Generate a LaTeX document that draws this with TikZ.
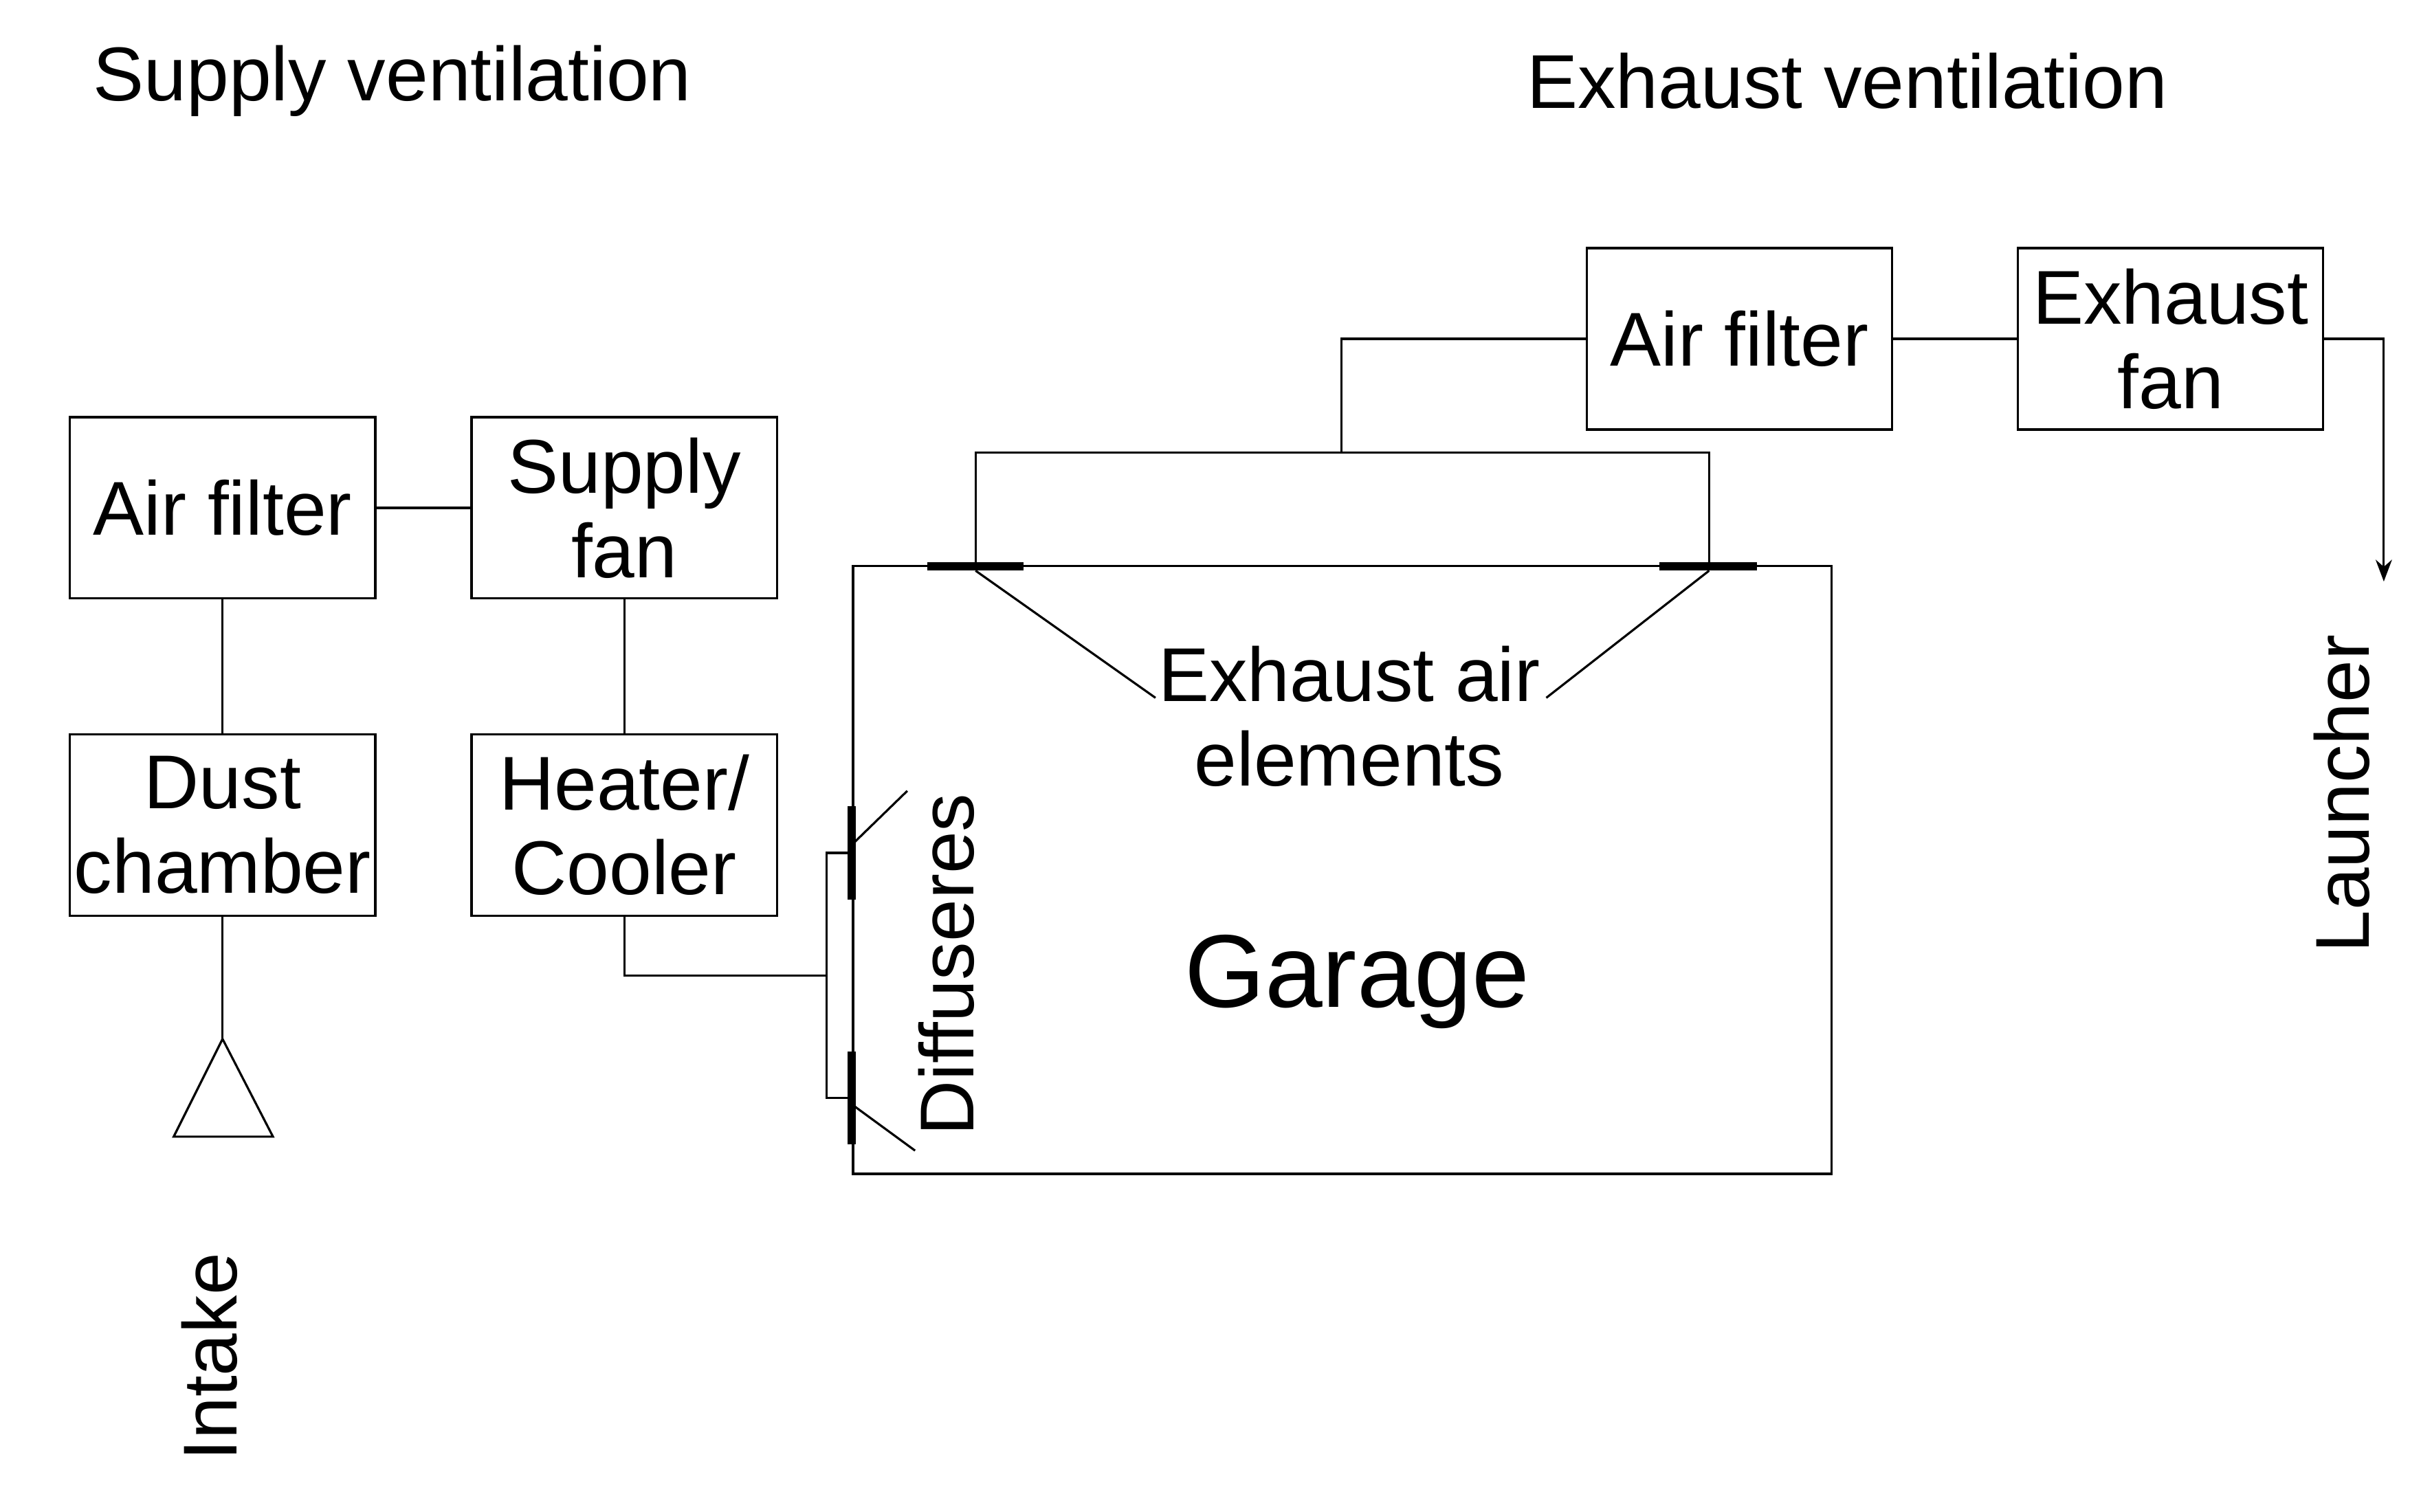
\documentclass[tikz,border=0pt]{standalone}
\usepackage{fontspec}
\setmainfont{Liberation Sans}
\usetikzlibrary{arrows.meta}
\begin{document}
\begin{tikzpicture}[x=0.02cm,y=-0.02cm,line width=0.8pt,
  box/.style={draw,minimum width=3.94cm,minimum height=2.34cm,inner sep=0pt,align=center,font=\fontsize{28}{31}\selectfont},
  lbl/.style={font=\fontsize{28}{31}\selectfont,align=center,inner sep=0pt},
  bar/.style={line width=3pt}]
\useasboundingbox (0,0) rectangle (1561,975);
\node[lbl] (t1) at (253,52) {Supply ventilation};
\node[lbl] (t2) at (1191,52) {Exhaust ventilation};
\node[box] (af1) at (143.5,327.5) {Air filter};
\node[box] (sf) at (402.5,327.5) {Supply\\fan};
\node[box] (dc) at (143.5,532) {Dust\\chamber};
\node[box] (hc) at (402.5,532) {Heater/\\Cooler};
\node[box] (af2) at (1121.5,218.5) {Air filter};
\node[box] (ef) at (1399.5,218.5) {Exhaust\\fan};
\draw (af1) -- (sf);
\draw (af1) -- (dc);
\draw (sf) -- (hc);
\coordinate (tt) at (143.5,670);
\draw (dc) -- (tt);
\draw (tt) -- (112,733) -- (176,733) -- cycle;
\node[lbl,rotate=90] (intake) at (135,875) {Intake};
% garage
\draw (550,365) rectangle (1181,757);
\node[font=\fontsize{38}{42}\selectfont] (garage) at (875,633) {Garage};
% diffusers
\coordinate (d1) at (549,550); \coordinate (d2) at (549,708);
\draw[bar] (549,520) -- (549,580);
\draw[bar] (549,678) -- (549,738);
\draw (hc.south) |- (533,629);
\draw (d1) -- (533,550) -- (533,708) -- (d2);
\draw (549,545) -- (585,510);
\draw (549,712) -- (590,742);
\node[lbl,rotate=90] (diff) at (610,622) {Diffuseres};
% exhaust elements
\coordinate (e1) at (629,365); \coordinate (e2) at (1102,365);
\draw[bar] (598,365) -- (660,365);
\draw[bar] (1070,365) -- (1133,365);
\draw (e1) -- (629,292) -- (1102,292) -- (e2);
\draw (865,292) |- (af2.west);
\draw (af2) -- (ef);
\coordinate (la) at (1537,375);
\draw[-{Stealth[length=8pt,width=6pt]}] (ef.east) -| (la);
\node[lbl,rotate=90] (launcher) at (1510,512) {Launcher};
\node[lbl] (eae) at (870,462) {Exhaust air\\elements};
\draw (629,368) -- (745,450);
\draw (1102,368) -- (997,450);
\end{tikzpicture}
\end{document}
